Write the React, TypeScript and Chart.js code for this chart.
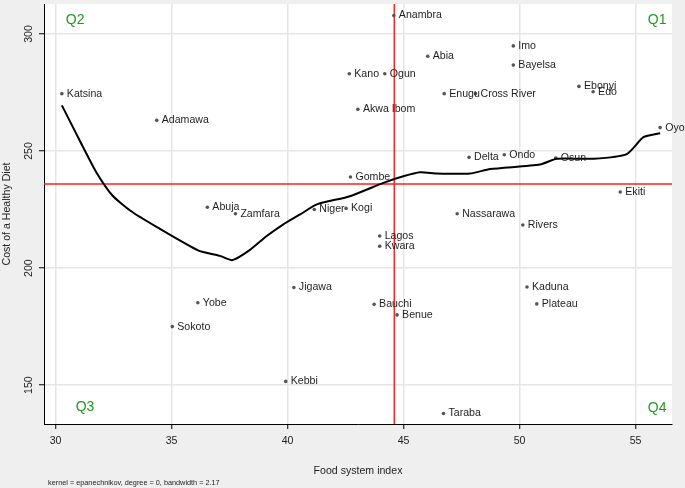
import React, { useEffect, useRef } from 'react';
import { Chart, registerables } from 'chart.js';

Chart.register(...registerables);

// ---- Data ----
const states = [
  'Katsina', 'Adamawa', 'Abuja', 'Zamfara', 'Anambra', 'Abia', 'Kano', 'Ogun',
  'Enugu', 'Cross River', 'Akwa Ibom', 'Gombe', 'Delta', 'Ondo', 'Osun', 'Imo',
  'Bayelsa', 'Ebonyi', 'Edo', 'Oyo', 'Ekiti', 'Rivers', 'Nassarawa', 'Niger',
  'Kogi', 'Lagos', 'Kwara', 'Jigawa', 'Bauchi', 'Benue', 'Kebbi', 'Taraba',
  'Yobe', 'Sokoto', 'Kaduna', 'Plateau',
];
const foodSystemIndex = [
  30.27, 34.36, 36.54, 37.75, 44.58, 46.04, 42.66, 44.19,
  46.75, 48.1, 43.03, 42.71, 47.82, 49.34, 51.56, 49.73,
  49.73, 52.56, 53.17, 56.06, 54.34, 50.14, 47.31, 41.15,
  42.52, 43.97, 43.97, 40.27, 43.73, 44.72, 39.92, 46.72,
  36.13, 35.03, 50.32, 50.74,
];
const healthyDietCost = [
  274.5, 263.1, 226.0, 223.2, 307.9, 290.5, 283.0, 283.0,
  274.5, 274.5, 267.8, 238.9, 247.3, 248.4, 247.0, 294.9,
  286.7, 277.6, 275.3, 260.0, 232.5, 218.4, 223.2, 225.0,
  225.5, 213.7, 209.3, 191.7, 184.5, 180.0, 151.6, 137.9,
  185.2, 175.0, 191.9, 184.7,
];

// local polynomial smooth (epanechnikov, degree 0)
const smoothX = [
  30.27, 31.06, 31.78, 32.45, 33.21, 34.37, 36.14, 37.09, 37.62, 38.38,
  39.10, 39.82, 40.54, 41.26, 42.69, 44.13, 44.99, 45.71, 46.43, 47.87,
  48.73, 50.88, 51.60, 53.18, 54.62, 55.34, 56.06,
];
const smoothY = [
  269.5, 254.1, 240.5, 231.0, 224.6, 217.5, 207.6, 205.2, 203.4, 207.8,
  213.7, 218.7, 222.9, 227.2, 230.7, 236.4, 239.2, 240.9, 240.4, 240.4,
  242.3, 244.2, 246.7, 246.7, 248.7, 255.9, 257.6,
];

const meanFoodSystemIndex = 44.6;
const meanHealthyDietCost = 235.9;

const quadrantNames = ['Q1', 'Q2', 'Q3', 'Q4'];
const quadrantX = [55.93, 30.84, 31.27, 55.93];
const quadrantY = [305.9, 305.9, 140.5, 140.2];

const xTitle = 'Food system index';
const yTitle = 'Cost of a Healthy Diet';
const note = 'kernel = epanechnikov, degree = 0, bandwidth = 2.17';

const FONT = '"Liberation Sans", Arial, sans-serif';
const FS = 10.6;

export default function App() {
  const ref = useRef<HTMLCanvasElement | null>(null);

  useEffect(() => {
    document.body.style.margin = '0';
    document.body.style.background = '#efefef';
    const canvas = ref.current;
    if (!canvas) return;

    const overlay = {
      id: 'overlay',
      beforeDraw(chart: any) {
        const { ctx, chartArea: a } = chart;
        ctx.save();
        ctx.fillStyle = '#efefef';
        ctx.fillRect(0, 0, chart.width, chart.height);
        ctx.fillStyle = '#ffffff';
        ctx.fillRect(a.left, a.top, a.right - a.left, a.bottom - a.top);
        ctx.restore();
      },
      beforeDatasetsDraw(chart: any) {
        const { ctx, chartArea: a, scales } = chart;
        const xs = scales.x, ys = scales.y;
        const px = xs.getPixelForValue(meanFoodSystemIndex);
        const py = ys.getPixelForValue(meanHealthyDietCost);
        ctx.save();
        ctx.strokeStyle = '#ff2020';
        ctx.lineWidth = 1.5;
        ctx.beginPath();
        ctx.moveTo(px, a.top);
        ctx.lineTo(px, a.bottom);
        ctx.moveTo(a.left, py);
        ctx.lineTo(a.right, py);
        ctx.stroke();
        ctx.restore();
      },
      afterDatasetsDraw(chart: any) {
        const { ctx, scales } = chart;
        const meta = chart.getDatasetMeta(1);
        ctx.save();
        ctx.font = `${FS}px ${FONT}`;
        ctx.fillStyle = '#1e1e1e';
        ctx.textAlign = 'left';
        ctx.textBaseline = 'middle';
        meta.data.forEach((pt: any, i: number) => {
          ctx.fillText(states[i], pt.x + 5, pt.y);
        });
        ctx.font = `14px ${FONT}`;
        ctx.fillStyle = '#229a22';
        ctx.textAlign = 'center';
        quadrantNames.forEach((q, i) => {
          ctx.fillText(q, scales.x.getPixelForValue(quadrantX[i]), scales.y.getPixelForValue(quadrantY[i]));
        });
        ctx.restore();
      },
      afterDraw(chart: any) {
        const { ctx, scales } = chart;
        const ys = scales.y;
        ctx.save();
        ctx.font = `${FS}px ${FONT}`;
        ctx.fillStyle = '#1e1e1e';
        ctx.textAlign = 'center';
        ctx.textBaseline = 'middle';
        ys.ticks.forEach((t: any) => {
          const y = ys.getPixelForValue(t.value);
          ctx.save();
          ctx.translate(29, y);
          ctx.rotate(-Math.PI / 2);
          ctx.fillText(String(t.value), 0, 0);
          ctx.restore();
        });
        ctx.font = `7.3px ${FONT}`;
        ctx.textAlign = 'left';
        ctx.fillText(note, 48, 482.5);
        ctx.restore();
      },
    };

    const chart = new Chart(canvas, {
      type: 'scatter',
      data: {
        datasets: [
          {
            type: 'line',
            label: 'lpoly',
            data: smoothX.map((x, i) => ({ x, y: smoothY[i] })),
            borderColor: '#000000',
            borderWidth: 2,
            pointRadius: 0,
            tension: 0.2,
            fill: false,
            order: 0,
          } as any,
          {
            label: 'states',
            data: states.map((_, i) => ({ x: foodSystemIndex[i], y: healthyDietCost[i] })),
            backgroundColor: '#555555',
            borderColor: '#555555',
            pointRadius: 1.8,
            borderWidth: 0,
            order: 1,
          },
        ],
      },
      plugins: [overlay],
      options: {
        responsive: false,
        animation: false,
        layout: { padding: { top: 0, right: 13, left: 0, bottom: 0 } },
        plugins: {
          legend: { display: false },
          tooltip: { enabled: false },
        },
        scales: {
          x: {
            type: 'linear',
            position: 'bottom',
            min: 29.5,
            max: 56.57,
            afterFit(scale: any) { scale.height = 64; scale.paddingLeft = 0; scale.paddingRight = 0; },
            ticks: {
              stepSize: 5,
              includeBounds: false,
              padding: 6,
              color: '#1e1e1e',
              font: { family: FONT, size: FS },
            },
            grid: {
              color: '#e6e6e6',
              lineWidth: 1.5,
              tickColor: '#000000',
              tickLength: 5,
              tickWidth: 1,
            },
            border: { display: true, color: '#000000', width: 1 },
            title: {
              display: true,
              text: xTitle,
              color: '#1e1e1e',
              font: { family: FONT, size: FS },
              padding: { top: 0, bottom: 11 },
            },
          },
          y: {
            type: 'linear',
            position: 'left',
            min: 133.4,
            max: 312.8,
            afterFit(scale: any) { scale.width = 44; scale.paddingTop = 0; scale.paddingBottom = 0; },
            ticks: {
              stepSize: 50,
              includeBounds: false,
              color: 'rgba(0,0,0,0)',
              font: { family: FONT, size: 1 },
            },
            grid: {
              color: '#e6e6e6',
              lineWidth: 1.5,
              tickColor: '#000000',
              tickLength: 5,
              tickWidth: 1,
            },
            border: { display: true, color: '#000000', width: 1 },
            title: {
              display: true,
              text: yTitle,
              color: '#1e1e1e',
              font: { family: FONT, size: FS },
              padding: { top: 1, bottom: 0 },
            },
          },
        },
      },
    });

    return () => chart.destroy();
  }, []);

  return <canvas ref={ref} width={685} height={488} style={{ display: 'block' }} />;
}
